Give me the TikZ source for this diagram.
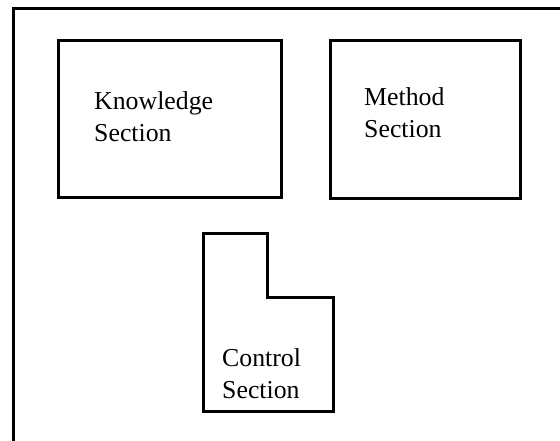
\documentclass[tikz,border=0pt]{standalone}
\usepackage{fontspec}
\setmainfont{Liberation Serif}
\begin{document}
\begin{tikzpicture}[x=1pt,y=-1pt,
  outline/.style={draw=black,line width=3pt,line join=miter},
  label/.style={anchor=base west,inner sep=0pt,align=left,
    font=\fontsize{25.8}{32}\selectfont}]
  \useasboundingbox (0,0) rectangle (560,440);
  % page frame (only its top and left edges are in view)
  \draw[outline] (13,442) -- (13,8) -- (562,8);
  % knowledge section
  \draw[outline] (58,40) rectangle (281,197);
  \node[label] (know) at (94,141) {Knowledge\\Section};
  % method section
  \draw[outline] (330,40) rectangle (520,198);
  \node[label] (meth) at (364,137) {Method\\Section};
  % control section, an L-shaped block
  \draw[outline] (203,233) -- (267,233) -- (267,297) -- (333,297)
    -- (333,411) -- (203,411) -- cycle;
  \node[label] (ctrl) at (222,398) {Control\\Section};
\end{tikzpicture}
\end{document}
